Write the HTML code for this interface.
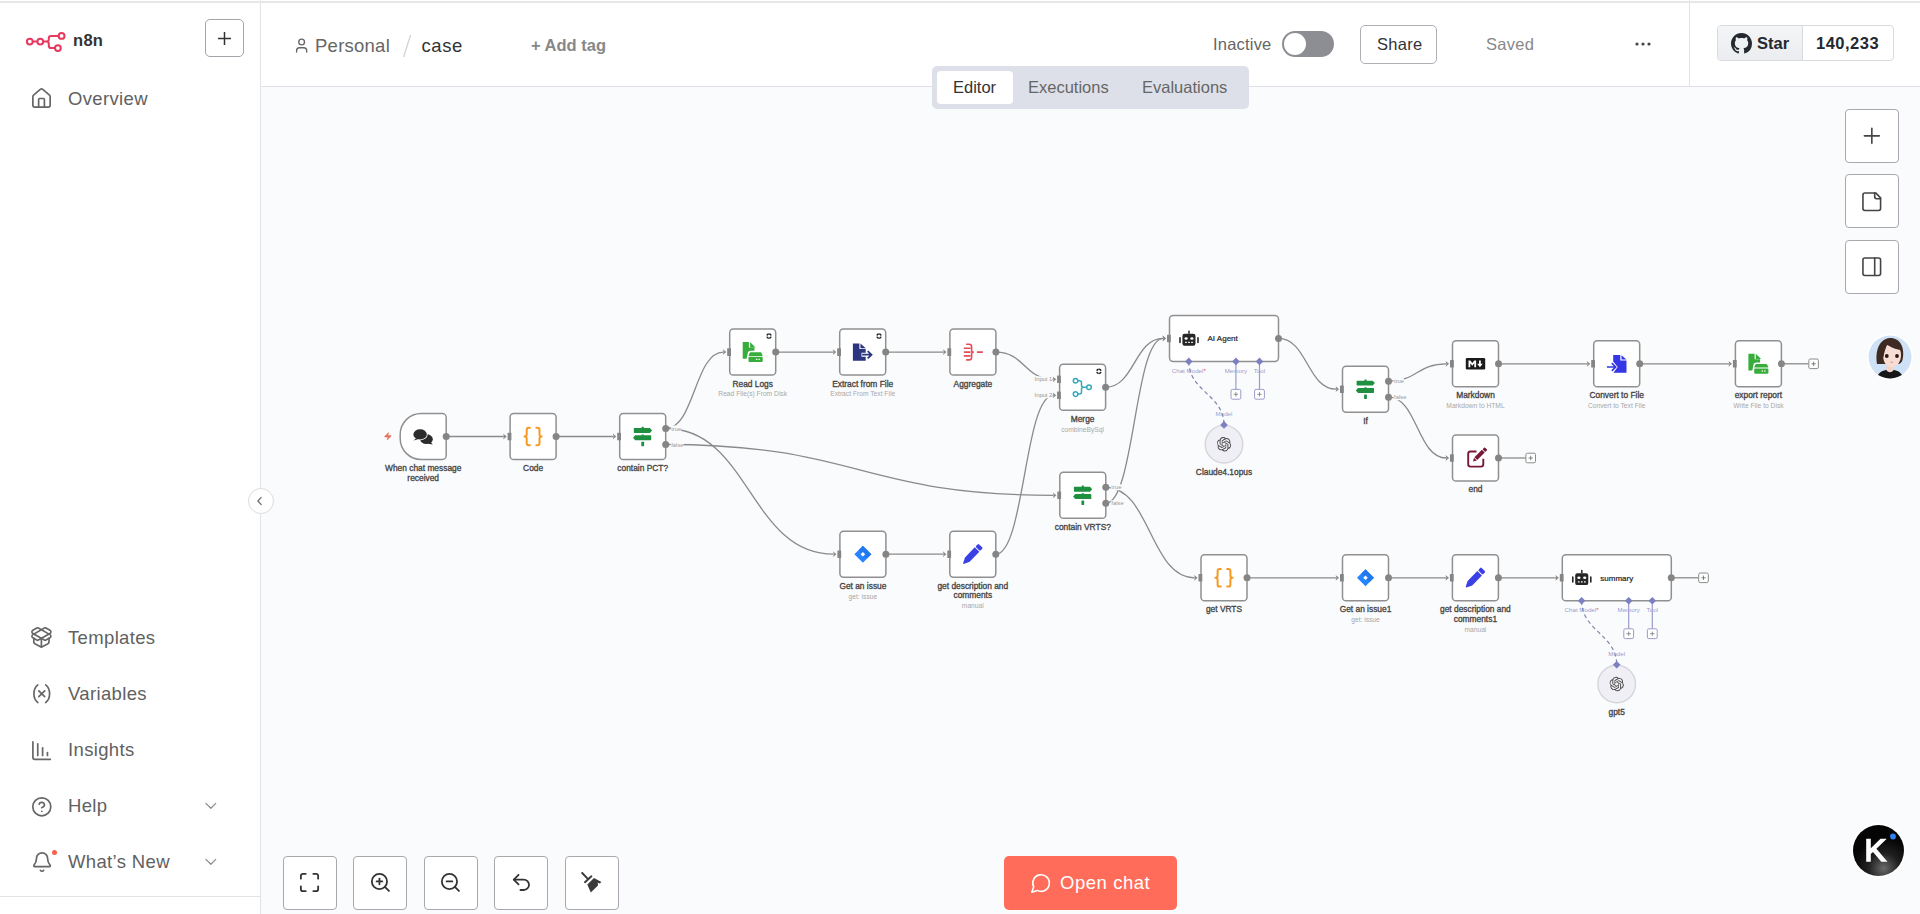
<!DOCTYPE html>
<html><head><meta charset="utf-8"><style>
*{box-sizing:border-box;margin:0;padding:0}
html,body{width:1920px;height:914px;overflow:hidden;background:#fafbfc;font-family:"Liberation Sans", sans-serif;}
.abs{position:absolute}
#sidebar{position:absolute;left:0;top:0;width:261px;height:914px;background:#fff;border-right:1px solid #e3e3e6}
#topline{position:absolute;left:0;top:1px;width:1920px;height:2px;background:#e7e7e7;z-index:20}
#header{position:absolute;left:261px;top:0;width:1659px;height:87px;background:#fff;border-bottom:1px solid #dfe1e6}
.btn{position:absolute;background:#fff;border:1px solid #a8a8ad;border-radius:4px}
.navtxt{position:absolute;font-size:18.5px;color:#616161;letter-spacing:0.35px}
.txt{position:absolute;white-space:nowrap}
</style></head>
<body>
<svg class="abs" style="left:0;top:0" width="1920" height="914" viewBox="0 0 1920 914" font-family='"Liberation Sans", sans-serif'><path d="M446.2 436.5 C475.0 436.5 475.0 436.5 503.8 436.5" fill="none" stroke="#8a8a8a" stroke-width="1.3"/><path d="M503.20 433.60 L506.70 436.50 L503.20 439.40 L504.00 436.50z" fill="#8a8a8a"/><path d="M556.1 436.5 C584.8 436.5 584.8 436.5 613.4 436.5" fill="none" stroke="#8a8a8a" stroke-width="1.3"/><path d="M612.80 433.60 L616.30 436.50 L612.80 439.40 L613.60 436.50z" fill="#8a8a8a"/><path d="M665.7 428.5 C694.6 428.5 694.6 352.1 723.4 352.1" fill="none" stroke="#8a8a8a" stroke-width="1.3"/><path d="M722.80 349.20 L726.30 352.10 L722.80 355.00 L723.60 352.10z" fill="#8a8a8a"/><path d="M665.7 428.5 C749.7 428.5 749.7 554.2 833.6 554.2" fill="none" stroke="#8a8a8a" stroke-width="1.3"/><path d="M833.00 551.30 L836.50 554.20 L833.00 557.10 L833.80 554.20z" fill="#8a8a8a"/><path d="M665.7 444.5 C859.6 444.5 859.6 495.3 1053.5 495.3" fill="none" stroke="#8a8a8a" stroke-width="1.3"/><path d="M1052.90 492.40 L1056.40 495.30 L1052.90 498.20 L1053.70 495.30z" fill="#8a8a8a"/><path d="M775.7 352.1 C804.6 352.1 804.6 352.1 833.4 352.1" fill="none" stroke="#8a8a8a" stroke-width="1.3"/><path d="M832.80 349.20 L836.30 352.10 L832.80 355.00 L833.60 352.10z" fill="#8a8a8a"/><path d="M885.7 352.1 C914.7 352.1 914.7 352.1 943.6 352.1" fill="none" stroke="#8a8a8a" stroke-width="1.3"/><path d="M943.00 349.20 L946.50 352.10 L943.00 355.00 L943.80 352.10z" fill="#8a8a8a"/><path d="M995.9 352.1 C1024.6 352.1 1024.6 379.3 1053.3 379.3" fill="none" stroke="#8a8a8a" stroke-width="1.3"/><path d="M1052.70 376.40 L1056.20 379.30 L1052.70 382.20 L1053.50 379.30z" fill="#8a8a8a"/><path d="M995.8 554.2 C1024.5 554.2 1024.5 395.3 1053.3 395.3" fill="none" stroke="#8a8a8a" stroke-width="1.3"/><path d="M1052.70 392.40 L1056.20 395.30 L1052.70 398.20 L1053.50 395.30z" fill="#8a8a8a"/><path d="M1105.6 387.3 C1134.4 387.3 1134.4 338.4 1163.2 338.4" fill="none" stroke="#8a8a8a" stroke-width="1.3"/><path d="M1162.60 335.55 L1166.10 338.45 L1162.60 341.35 L1163.40 338.45z" fill="#8a8a8a"/><path d="M1105.8 503.3 C1134.5 503.3 1134.5 338.4 1163.2 338.4" fill="none" stroke="#8a8a8a" stroke-width="1.3"/><path d="M1162.60 335.55 L1166.10 338.45 L1162.60 341.35 L1163.40 338.45z" fill="#8a8a8a"/><path d="M1105.8 487.3 C1150.2 487.3 1150.2 577.8 1194.7 577.8" fill="none" stroke="#8a8a8a" stroke-width="1.3"/><path d="M1194.10 574.90 L1197.60 577.80 L1194.10 580.70 L1194.90 577.80z" fill="#8a8a8a"/><path d="M1278.5 338.4 C1307.3 338.4 1307.3 389.2 1336.2 389.2" fill="none" stroke="#8a8a8a" stroke-width="1.3"/><path d="M1335.60 386.30 L1339.10 389.20 L1335.60 392.10 L1336.40 389.20z" fill="#8a8a8a"/><path d="M1388.5 381.2 C1417.3 381.2 1417.3 363.8 1446.2 363.8" fill="none" stroke="#8a8a8a" stroke-width="1.3"/><path d="M1445.60 360.90 L1449.10 363.80 L1445.60 366.70 L1446.40 363.80z" fill="#8a8a8a"/><path d="M1388.5 397.2 C1417.3 397.2 1417.3 458.0 1446.2 458.0" fill="none" stroke="#8a8a8a" stroke-width="1.3"/><path d="M1445.60 455.10 L1449.10 458.00 L1445.60 460.90 L1446.40 458.00z" fill="#8a8a8a"/><path d="M1498.5 363.8 C1543.0 363.8 1543.0 363.8 1587.4 363.8" fill="none" stroke="#8a8a8a" stroke-width="1.3"/><path d="M1586.80 360.90 L1590.30 363.80 L1586.80 366.70 L1587.60 363.80z" fill="#8a8a8a"/><path d="M1639.7 363.8 C1684.4 363.8 1684.4 363.8 1729.1 363.8" fill="none" stroke="#8a8a8a" stroke-width="1.3"/><path d="M1728.50 360.90 L1732.00 363.80 L1728.50 366.70 L1729.30 363.80z" fill="#8a8a8a"/><path d="M885.9 554.2 C914.7 554.2 914.7 554.2 943.5 554.2" fill="none" stroke="#8a8a8a" stroke-width="1.3"/><path d="M942.90 551.30 L946.40 554.20 L942.90 557.10 L943.70 554.20z" fill="#8a8a8a"/><path d="M1247.0 577.8 C1291.6 577.8 1291.6 577.8 1336.2 577.8" fill="none" stroke="#8a8a8a" stroke-width="1.3"/><path d="M1335.60 574.90 L1339.10 577.80 L1335.60 580.70 L1336.40 577.80z" fill="#8a8a8a"/><path d="M1388.5 577.8 C1417.3 577.8 1417.3 577.8 1446.1 577.8" fill="none" stroke="#8a8a8a" stroke-width="1.3"/><path d="M1445.50 574.90 L1449.00 577.80 L1445.50 580.70 L1446.30 577.80z" fill="#8a8a8a"/><path d="M1498.4 577.8 C1527.2 577.8 1527.2 577.8 1556.0 577.8" fill="none" stroke="#8a8a8a" stroke-width="1.3"/><path d="M1555.40 574.90 L1558.90 577.80 L1555.40 580.70 L1556.20 577.80z" fill="#8a8a8a"/><path d="M1781.4 363.8 H1808.4" stroke="#8a8a8a" stroke-width="1.3"/><path d="M1498.5 458.0 H1525.5" stroke="#8a8a8a" stroke-width="1.3"/><path d="M1671.3 577.8 H1698.3" stroke="#8a8a8a" stroke-width="1.3"/><path d="M1235.9 361.4 V389.4" stroke="#9a9ccb" stroke-width="1.2"/><path d="M1259.5 361.4 V389.4" stroke="#9a9ccb" stroke-width="1.2"/><path d="M1188.8 361.4 C1188.8 391.4 1224.0 394.9 1224.0 424.9" fill="none" stroke="#8083b0" stroke-width="1.2" stroke-dasharray="4 3"/><path d="M1628.7 600.8 V628.8" stroke="#9a9ccb" stroke-width="1.2"/><path d="M1652.3 600.8 V628.8" stroke="#9a9ccb" stroke-width="1.2"/><path d="M1581.6 600.8 C1581.6 630.8 1616.7 634.7 1616.7 664.7" fill="none" stroke="#8083b0" stroke-width="1.2" stroke-dasharray="4 3"/><rect x="1808.8" y="359.0" width="9.6" height="9.6" rx="1.5" fill="#fff" stroke="#8c8c8c" stroke-width="1"/><path d="M1811.4 363.8h4.4M1813.6 361.6v4.4" stroke="#666" stroke-width="0.8"/><rect x="1525.9" y="453.2" width="9.6" height="9.6" rx="1.5" fill="#fff" stroke="#8c8c8c" stroke-width="1"/><path d="M1528.5 458.0h4.4M1530.7 455.8v4.4" stroke="#666" stroke-width="0.8"/><rect x="1698.7" y="573.0" width="9.6" height="9.6" rx="1.5" fill="#fff" stroke="#8c8c8c" stroke-width="1"/><path d="M1701.3 577.8h4.4M1703.5 575.6v4.4" stroke="#666" stroke-width="0.8"/><path d="M421.2 413.5 H442.2 a4 4 0 0 1 4 4 V455.5 a4 4 0 0 1 -4 4 H421.2 a21 21 0 0 1 -21 -21 V434.5 a21 21 0 0 1 21 -21z" fill="#fff" stroke="#909090" stroke-width="1.5"/><g transform="translate(423.2 436.5)"><g fill="#2c2c2c">
<ellipse cx="3.3" cy="2.7" rx="6.3" ry="4.9"/>
<path d="M7.2 5.2 L9.6 7.9 L4.8 7.2z"/>
<ellipse cx="-3.1" cy="-2.1" rx="7.5" ry="5.9" fill="#fff"/>
<ellipse cx="-3.1" cy="-2.1" rx="6.7" ry="5.1"/>
<path d="M-6.8 1.6 L-9.6 4.0 L-4.4 2.6z"/>
</g></g><circle cx="446.2" cy="436.5" r="3.5" fill="#858585"/><rect x="510.1" y="413.5" width="46" height="46" rx="3.6" fill="#fff" stroke="#909090" stroke-width="1.5"/><g transform="translate(533.1 436.5)"><g fill="none" stroke="#f59a23" stroke-width="2" stroke-linecap="round" stroke-linejoin="round">
<path d="M-3.2 -8.8 H-4.4 C-5.9 -8.8 -6.4 -8.1 -6.4 -6.6 V-2.3 C-6.4 -0.9 -7 0 -8.6 0 C-7 0 -6.4 0.9 -6.4 2.3 V6.6 C-6.4 8.1 -5.9 8.8 -4.4 8.8 H-3.2"/>
<path d="M3.2 -8.8 H4.4 C5.9 -8.8 6.4 -8.1 6.4 -6.6 V-2.3 C6.4 -0.9 7 0 8.6 0 C7 0 6.4 0.9 6.4 2.3 V6.6 C6.4 8.1 5.9 8.8 4.4 8.8 H3.2"/>
</g></g><rect x="507.60" y="432.70" width="3.8" height="7.6" rx="0.5" fill="#858585"/><circle cx="556.1" cy="436.5" r="3.5" fill="#858585"/><rect x="619.7" y="413.5" width="46" height="46" rx="3.6" fill="#fff" stroke="#909090" stroke-width="1.5"/><g transform="translate(642.7 436.5)"><g fill="#1f8f40">
<path d="M-8.3 -8.5 H7.2 L9.4 -6.1 L7.2 -3.6 H-8.3 a0.6 0.6 0 0 1 -0.6 -0.6 v-3.7 a0.6 0.6 0 0 1 0.6 -0.6z"/>
<path d="M7.9 -1.2 H-7.5 L-9.7 1.2 L-7.5 3.7 H7.9 a0.6 0.6 0 0 0 0.6 -0.6 v-3.7 a0.6 0.6 0 0 0 -0.6 -0.6z"/>
<rect x="-1.4" y="5.3" width="2.8" height="4.4" rx="0.4"/>
<rect x="-1.1" y="-9.7" width="2.2" height="1.6" rx="0.4"/>
<rect x="-1.1" y="-2" width="2.2" height="1.2" rx="0.3"/>
</g></g><rect x="617.20" y="432.70" width="3.8" height="7.6" rx="0.5" fill="#858585"/><circle cx="665.7" cy="428.5" r="3.5" fill="#858585"/><circle cx="665.7" cy="444.5" r="3.5" fill="#858585"/><rect x="729.7" y="329.1" width="46" height="46" rx="3.6" fill="#fff" stroke="#909090" stroke-width="1.5"/><g transform="translate(752.7 352.1)"><g fill="#37ad3b">
<path d="M-10 -10 h6.2 v5.5 h5.5 v3.2 h-3.7 c-1.6 0 -2.4 0.7 -2.8 1.8 l-1.3 6.1 h-3.9z"/>
<path d="M-2.6 -10 l5.3 5.3 h-5.3z"/>
<path d="M-3.3 1.5 c0.3 -1 0.8 -1.4 1.8 -1.4 h8.8 c1 0 1.5 0.4 1.8 1.4 l0.9 2.3 h-14.2z"/>
<rect x="-4.2" y="4.7" width="14.2" height="5.2" rx="1"/>
</g><g fill="#fff"><rect x="3.3" y="6.6" width="1.3" height="1.3"/><rect x="5.8" y="6.6" width="1.3" height="1.3"/></g></g><path d="M771.08 336.66 A2.15 2.15 0 0 1 769.19 338.24 M768.81 338.24 A2.15 2.15 0 0 1 766.92 336.66 M766.92 335.54 A2.15 2.15 0 0 1 768.81 333.96 M769.19 333.96 A2.15 2.15 0 0 1 771.08 335.54" fill="none" stroke="#1e1e1e" stroke-width="1.5" stroke-linecap="butt"/><rect x="727.20" y="348.30" width="3.8" height="7.6" rx="0.5" fill="#858585"/><circle cx="775.7" cy="352.1" r="3.5" fill="#858585"/><rect x="839.7" y="329.1" width="46" height="46" rx="3.6" fill="#fff" stroke="#909090" stroke-width="1.5"/><g transform="translate(862.7 352.1)"><g fill="#2b3580">
<path d="M-9.8 -8.7 H-3.3 V-3 H3.0 V8.6 H-9.8Z"/>
<path d="M-2.2 -8.5 L3 -3.9 H-2.2Z"/>
</g><path d="M-1.2 2.6 H8 M4.8 -1.4 L8.8 2.6 L4.8 6.6" fill="none" stroke="#fff" stroke-width="4" stroke-linejoin="miter"/>
<path d="M-0.6 2.6 H8 M5 -1 L8.8 2.6 L5 6.2" fill="none" stroke="#2b3580" stroke-width="1.8"/></g><path d="M881.08 336.66 A2.15 2.15 0 0 1 879.19 338.24 M878.81 338.24 A2.15 2.15 0 0 1 876.92 336.66 M876.92 335.54 A2.15 2.15 0 0 1 878.81 333.96 M879.19 333.96 A2.15 2.15 0 0 1 881.08 335.54" fill="none" stroke="#1e1e1e" stroke-width="1.5" stroke-linecap="butt"/><rect x="837.20" y="348.30" width="3.8" height="7.6" rx="0.5" fill="#858585"/><circle cx="885.7" cy="352.1" r="3.5" fill="#858585"/><rect x="949.9" y="329.1" width="46" height="46" rx="3.6" fill="#fff" stroke="#909090" stroke-width="1.5"/><g transform="translate(972.9 352.1)"><g fill="none" stroke="#e34c58" stroke-width="1.6" stroke-linecap="round">
<path d="M-6.2 -7.8 h2.4 c1.7 0 2.5 0.8 2.5 2.5 v3.4 c0 1.2 0.7 1.9 2.2 1.9 c-1.5 0 -2.2 0.7 -2.2 1.9 v3.4 c0 1.7 -0.8 2.5 -2.5 2.5 h-2.4"/>
<path d="M-8.5 -3.8 h5.6 M-8.5 0 h5.6 M-8.5 3.8 h5.6 M4.6 0 h4.8"/>
</g></g><rect x="947.40" y="348.30" width="3.8" height="7.6" rx="0.5" fill="#858585"/><circle cx="995.9" cy="352.1" r="3.5" fill="#858585"/><rect x="1059.6" y="364.3" width="46" height="46" rx="3.6" fill="#fff" stroke="#909090" stroke-width="1.5"/><g transform="translate(1082.6 387.3)"><g fill="none" stroke="#33a9b9" stroke-width="1.5">
<circle cx="-7" cy="-6.6" r="2.3"/><circle cx="-7" cy="6.8" r="2.3"/><circle cx="6.4" cy="0" r="2.3"/>
<path d="M-4.7 -6.6 h1.6 c1.3 0 2 0.7 2 2 v2.6 c0 1.3 0.7 2 2 2 h3.2 M-4.7 6.8 h1.6 c1.3 0 2 -0.7 2 -2 v-2.8 c0 -1.3 0.7 -2 2 -2"/>
</g></g><path d="M1100.98 371.86 A2.15 2.15 0 0 1 1099.09 373.44 M1098.71 373.44 A2.15 2.15 0 0 1 1096.82 371.86 M1096.82 370.74 A2.15 2.15 0 0 1 1098.71 369.16 M1099.09 369.16 A2.15 2.15 0 0 1 1100.98 370.74" fill="none" stroke="#1e1e1e" stroke-width="1.5" stroke-linecap="butt"/><rect x="1057.10" y="375.50" width="3.8" height="7.6" rx="0.5" fill="#858585"/><rect x="1057.10" y="391.50" width="3.8" height="7.6" rx="0.5" fill="#858585"/><circle cx="1105.6" cy="387.3" r="3.5" fill="#858585"/><rect x="1169.5" y="315.4" width="109" height="46" rx="3.6" fill="#fff" stroke="#909090" stroke-width="1.5"/><g transform="translate(1189.0 338.4)"><g fill="#262626">
<rect x="-6.6" y="-4.6" width="13.1" height="11.9" rx="2.2"/>
<rect x="-0.75" y="-8" width="1.5" height="3.6" rx="0.7"/>
<rect x="-9.8" y="-1.5" width="1.6" height="6.4" rx="0.8"/><rect x="8.2" y="-1.5" width="1.6" height="6.4" rx="0.8"/>
</g><g fill="#fff"><ellipse cx="-2.9" cy="0" rx="1.6" ry="1.25"/><ellipse cx="2.9" cy="0" rx="1.6" ry="1.25"/>
<rect x="-3.9" y="3.4" width="1.7" height="1.3" rx="0.3"/><rect x="-0.85" y="3.4" width="1.7" height="1.3" rx="0.3"/><rect x="2.2" y="3.4" width="1.7" height="1.3" rx="0.3"/></g></g><rect x="1167.00" y="334.65" width="3.8" height="7.6" rx="0.5" fill="#858585"/><circle cx="1278.5" cy="338.4" r="3.5" fill="#858585"/><rect x="1342.5" y="366.2" width="46" height="46" rx="3.6" fill="#fff" stroke="#909090" stroke-width="1.5"/><g transform="translate(1365.5 389.2)"><g fill="#1f8f40">
<path d="M-8.3 -8.5 H7.2 L9.4 -6.1 L7.2 -3.6 H-8.3 a0.6 0.6 0 0 1 -0.6 -0.6 v-3.7 a0.6 0.6 0 0 1 0.6 -0.6z"/>
<path d="M7.9 -1.2 H-7.5 L-9.7 1.2 L-7.5 3.7 H7.9 a0.6 0.6 0 0 0 0.6 -0.6 v-3.7 a0.6 0.6 0 0 0 -0.6 -0.6z"/>
<rect x="-1.4" y="5.3" width="2.8" height="4.4" rx="0.4"/>
<rect x="-1.1" y="-9.7" width="2.2" height="1.6" rx="0.4"/>
<rect x="-1.1" y="-2" width="2.2" height="1.2" rx="0.3"/>
</g></g><rect x="1340.00" y="385.40" width="3.8" height="7.6" rx="0.5" fill="#858585"/><circle cx="1388.5" cy="381.2" r="3.5" fill="#858585"/><circle cx="1388.5" cy="397.2" r="3.5" fill="#858585"/><rect x="1452.5" y="340.8" width="46" height="46" rx="3.6" fill="#fff" stroke="#909090" stroke-width="1.5"/><g transform="translate(1475.5 363.8)"><g><rect x="-9.7" y="-5.8" width="19.4" height="11.6" rx="1.3" fill="#1b1b1b"/>
<path d="M-7 3.4 v-6.8 h1.8 l2 2.6 l2 -2.6 h1.8 v6.8 h-1.8 v-4 l-2 2.5 l-2 -2.5 v4z" fill="#fff"/>
<path d="M3.5 -3.4 h1.8 v3.4 h1.9 l-2.8 3.4 l-2.8 -3.4 h1.9z" fill="#fff"/></g></g><rect x="1450.00" y="360.00" width="3.8" height="7.6" rx="0.5" fill="#858585"/><circle cx="1498.5" cy="363.8" r="3.5" fill="#858585"/><rect x="1593.7" y="340.8" width="46" height="46" rx="3.6" fill="#fff" stroke="#909090" stroke-width="1.5"/><g transform="translate(1616.7 363.8)"><g fill="#3537e6">
<path d="M-3.5 -8.7 H3.6 V-3.2 H9.8 V8.9 H-3.3 L1.0 3.2 L-3.5 -2.4Z"/>
<path d="M4.8 -8.5 L9.7 -4.2 H4.8Z"/>
</g><path d="M-9.8 3.2 H-1.6 M-4.9 -0.6 L-1.1 3.2 L-4.9 7" fill="none" stroke="#3537e6" stroke-width="1.7"/></g><rect x="1591.20" y="360.00" width="3.8" height="7.6" rx="0.5" fill="#858585"/><circle cx="1639.7" cy="363.8" r="3.5" fill="#858585"/><rect x="1735.4" y="340.8" width="46" height="46" rx="3.6" fill="#fff" stroke="#909090" stroke-width="1.5"/><g transform="translate(1758.4 363.8)"><g fill="#37ad3b">
<path d="M-10 -10 h6.2 v5.5 h5.5 v3.2 h-3.7 c-1.6 0 -2.4 0.7 -2.8 1.8 l-1.3 6.1 h-3.9z"/>
<path d="M-2.6 -10 l5.3 5.3 h-5.3z"/>
<path d="M-3.3 1.5 c0.3 -1 0.8 -1.4 1.8 -1.4 h8.8 c1 0 1.5 0.4 1.8 1.4 l0.9 2.3 h-14.2z"/>
<rect x="-4.2" y="4.7" width="14.2" height="5.2" rx="1"/>
</g><g fill="#fff"><rect x="3.3" y="6.6" width="1.3" height="1.3"/><rect x="5.8" y="6.6" width="1.3" height="1.3"/></g></g><rect x="1732.90" y="360.00" width="3.8" height="7.6" rx="0.5" fill="#858585"/><circle cx="1781.4" cy="363.8" r="3.5" fill="#858585"/><rect x="1452.5" y="435.0" width="46" height="46" rx="3.6" fill="#fff" stroke="#909090" stroke-width="1.5"/><g transform="translate(1475.5 458.0)"><g>
<path d="M1 -6.5 h-6 c-1.4 0 -2.3 0.9 -2.3 2.3 v10.5 c0 1.4 0.9 2.3 2.3 2.3 h10.5 c1.4 0 2.3 -0.9 2.3 -2.3 v-5.5" fill="none" stroke="#7a1838" stroke-width="1.9"/>
<g transform="rotate(45 2.5 -1.5)" fill="#7a1838"><rect x="0.5" y="-9" width="4" height="10.5"/><path d="M0.5 2.2 h4 l-2 3.2z"/><rect x="0.5" y="-12.8" width="4" height="3" rx="0.8"/></g>
</g></g><rect x="1450.00" y="454.20" width="3.8" height="7.6" rx="0.5" fill="#858585"/><circle cx="1498.5" cy="458.0" r="3.5" fill="#858585"/><rect x="1059.8" y="472.3" width="46" height="46" rx="3.6" fill="#fff" stroke="#909090" stroke-width="1.5"/><g transform="translate(1082.8 495.3)"><g fill="#1f8f40">
<path d="M-8.3 -8.5 H7.2 L9.4 -6.1 L7.2 -3.6 H-8.3 a0.6 0.6 0 0 1 -0.6 -0.6 v-3.7 a0.6 0.6 0 0 1 0.6 -0.6z"/>
<path d="M7.9 -1.2 H-7.5 L-9.7 1.2 L-7.5 3.7 H7.9 a0.6 0.6 0 0 0 0.6 -0.6 v-3.7 a0.6 0.6 0 0 0 -0.6 -0.6z"/>
<rect x="-1.4" y="5.3" width="2.8" height="4.4" rx="0.4"/>
<rect x="-1.1" y="-9.7" width="2.2" height="1.6" rx="0.4"/>
<rect x="-1.1" y="-2" width="2.2" height="1.2" rx="0.3"/>
</g></g><rect x="1057.30" y="491.50" width="3.8" height="7.6" rx="0.5" fill="#858585"/><circle cx="1105.8" cy="487.3" r="3.5" fill="#858585"/><circle cx="1105.8" cy="503.3" r="3.5" fill="#858585"/><rect x="839.9" y="531.2" width="46" height="46" rx="3.6" fill="#fff" stroke="#909090" stroke-width="1.5"/><g transform="translate(862.9 554.2)"><g><path d="M0 -8.5 L8.5 0 L0 8.5 L-8.5 0z" fill="#2684ff"/><path d="M0 -8.5 L8.5 0 L4.2 4.2 L0 0 L-4.2 -4.2z" fill="#1d6fe0" opacity="0.6"/><path d="M0 -2.3 L2.3 0 L0 2.3 L-2.3 0z" fill="#fff"/></g></g><rect x="837.40" y="550.40" width="3.8" height="7.6" rx="0.5" fill="#858585"/><circle cx="885.9" cy="554.2" r="3.5" fill="#858585"/><rect x="949.8" y="531.2" width="46" height="46" rx="3.6" fill="#fff" stroke="#909090" stroke-width="1.5"/><g transform="translate(972.8 554.2)"><g fill="#3b3fe6" transform="translate(-0.9 0.7) rotate(44)">
<path d="M-3.2 -7.4 H3.2 V6.6 L0.5 12.2 H-0.5 L-3.2 6.6Z"/>
<rect x="-3.2" y="-12.6" width="6.4" height="4.2" rx="1.1"/>
</g></g><rect x="947.30" y="550.40" width="3.8" height="7.6" rx="0.5" fill="#858585"/><circle cx="995.8" cy="554.2" r="3.5" fill="#858585"/><rect x="1201.0" y="554.8" width="46" height="46" rx="3.6" fill="#fff" stroke="#909090" stroke-width="1.5"/><g transform="translate(1224.0 577.8)"><g fill="none" stroke="#f59a23" stroke-width="2" stroke-linecap="round" stroke-linejoin="round">
<path d="M-3.2 -8.8 H-4.4 C-5.9 -8.8 -6.4 -8.1 -6.4 -6.6 V-2.3 C-6.4 -0.9 -7 0 -8.6 0 C-7 0 -6.4 0.9 -6.4 2.3 V6.6 C-6.4 8.1 -5.9 8.8 -4.4 8.8 H-3.2"/>
<path d="M3.2 -8.8 H4.4 C5.9 -8.8 6.4 -8.1 6.4 -6.6 V-2.3 C6.4 -0.9 7 0 8.6 0 C7 0 6.4 0.9 6.4 2.3 V6.6 C6.4 8.1 5.9 8.8 4.4 8.8 H3.2"/>
</g></g><rect x="1198.50" y="574.00" width="3.8" height="7.6" rx="0.5" fill="#858585"/><circle cx="1247.0" cy="577.8" r="3.5" fill="#858585"/><rect x="1342.5" y="554.8" width="46" height="46" rx="3.6" fill="#fff" stroke="#909090" stroke-width="1.5"/><g transform="translate(1365.5 577.8)"><g><path d="M0 -8.5 L8.5 0 L0 8.5 L-8.5 0z" fill="#2684ff"/><path d="M0 -8.5 L8.5 0 L4.2 4.2 L0 0 L-4.2 -4.2z" fill="#1d6fe0" opacity="0.6"/><path d="M0 -2.3 L2.3 0 L0 2.3 L-2.3 0z" fill="#fff"/></g></g><rect x="1340.00" y="574.00" width="3.8" height="7.6" rx="0.5" fill="#858585"/><circle cx="1388.5" cy="577.8" r="3.5" fill="#858585"/><rect x="1452.4" y="554.8" width="46" height="46" rx="3.6" fill="#fff" stroke="#909090" stroke-width="1.5"/><g transform="translate(1475.4 577.8)"><g fill="#3b3fe6" transform="translate(-0.9 0.7) rotate(44)">
<path d="M-3.2 -7.4 H3.2 V6.6 L0.5 12.2 H-0.5 L-3.2 6.6Z"/>
<rect x="-3.2" y="-12.6" width="6.4" height="4.2" rx="1.1"/>
</g></g><rect x="1449.90" y="574.00" width="3.8" height="7.6" rx="0.5" fill="#858585"/><circle cx="1498.4" cy="577.8" r="3.5" fill="#858585"/><rect x="1562.3" y="554.8" width="109" height="46" rx="3.6" fill="#fff" stroke="#909090" stroke-width="1.5"/><g transform="translate(1581.8 577.8)"><g fill="#262626">
<rect x="-6.6" y="-4.6" width="13.1" height="11.9" rx="2.2"/>
<rect x="-0.75" y="-8" width="1.5" height="3.6" rx="0.7"/>
<rect x="-9.8" y="-1.5" width="1.6" height="6.4" rx="0.8"/><rect x="8.2" y="-1.5" width="1.6" height="6.4" rx="0.8"/>
</g><g fill="#fff"><ellipse cx="-2.9" cy="0" rx="1.6" ry="1.25"/><ellipse cx="2.9" cy="0" rx="1.6" ry="1.25"/>
<rect x="-3.9" y="3.4" width="1.7" height="1.3" rx="0.3"/><rect x="-0.85" y="3.4" width="1.7" height="1.3" rx="0.3"/><rect x="2.2" y="3.4" width="1.7" height="1.3" rx="0.3"/></g></g><rect x="1559.80" y="574.00" width="3.8" height="7.6" rx="0.5" fill="#858585"/><circle cx="1671.3" cy="577.8" r="3.5" fill="#858585"/><rect x="1231.0" y="389.4" width="9.8" height="9.8" rx="1.5" fill="#fff" stroke="#9a9ccb" stroke-width="1"/><path d="M1233.7 394.3h4.4M1235.9 392.1v4.4" stroke="#777" stroke-width="0.8"/><rect x="1254.6" y="389.4" width="9.8" height="9.8" rx="1.5" fill="#fff" stroke="#9a9ccb" stroke-width="1"/><path d="M1257.3 394.3h4.4M1259.5 392.1v4.4" stroke="#777" stroke-width="0.8"/><path d="M1188.8 357.6 l3.8 3.8 l-3.8 3.8 l-3.8 -3.8z" fill="#7c80c0"/><path d="M1235.9 357.6 l3.8 3.8 l-3.8 3.8 l-3.8 -3.8z" fill="#7c80c0"/><path d="M1259.5 357.6 l3.8 3.8 l-3.8 3.8 l-3.8 -3.8z" fill="#7c80c0"/><circle cx="1224.0" cy="444.2" r="18.8" fill="#efeff5" stroke="#d5d5dc" stroke-width="1.4"/><g transform="translate(1224.0 444.2)"><g transform="scale(0.6) translate(-12 -12)"><path fill="#4a4a4a" d="M22.2819 9.8211a5.9847 5.9847 0 0 0-.5157-4.9108 6.0462 6.0462 0 0 0-6.5098-2.9A6.0651 6.0651 0 0 0 4.9807 4.1818a5.9847 5.9847 0 0 0-3.9977 2.9 6.0462 6.0462 0 0 0 .7427 7.0966 5.98 5.98 0 0 0 .511 4.9107 6.051 6.051 0 0 0 6.5146 2.9001A5.9847 5.9847 0 0 0 13.2599 24a6.0557 6.0557 0 0 0 5.7718-4.2058 5.9894 5.9894 0 0 0 3.9977-2.9001 6.0557 6.0557 0 0 0-.7475-7.0729zm-9.022 12.6081a4.4755 4.4755 0 0 1-2.8764-1.0408l.1419-.0804 4.7783-2.7582a.7948.7948 0 0 0 .3927-.6813v-6.7369l2.02 1.1686a.071.071 0 0 1 .038.052v5.5826a4.504 4.504 0 0 1-4.4945 4.4944zm-9.6607-4.1254a4.4708 4.4708 0 0 1-.5346-3.0137l.142.0852 4.783 2.7582a.7712.7712 0 0 0 .7806 0l5.8428-3.3685v2.3324a.0804.0804 0 0 1-.0332.0615L9.74 19.9502a4.4992 4.4992 0 0 1-6.1408-1.6464zM2.3408 7.8956a4.485 4.485 0 0 1 2.3655-1.9728V11.6a.7664.7664 0 0 0 .3879.6765l5.8144 3.3543-2.0201 1.1685a.0757.0757 0 0 1-.071 0l-4.8303-2.7865A4.504 4.504 0 0 1 2.3408 7.872zm16.5963 3.8558L13.1038 8.364 15.1192 7.2a.0757.0757 0 0 1 .071 0l4.8303 2.7913a4.4944 4.4944 0 0 1-.6765 8.1042v-5.6772a.79.79 0 0 0-.407-.667zm2.0107-3.0231l-.142-.0852-4.7735-2.7818a.7759.7759 0 0 0-.7854 0L9.409 9.2297V6.8974a.0662.0662 0 0 1 .0284-.0615l4.8303-2.7866a4.4992 4.4992 0 0 1 6.6802 4.66zM8.3065 12.863l-2.02-1.1638a.0804.0804 0 0 1-.038-.0567V6.0742a4.4992 4.4992 0 0 1 7.3757-3.4537l-.142.0805L8.704 5.459a.7948.7948 0 0 0-.3927.6813zm1.0976-2.3654l2.602-1.4998 2.6069 1.4998v2.9994l-2.5974 1.4997-2.6067-1.4997Z"/></g></g><path d="M1224.0 421.1 l3.8 3.8 l-3.8 3.8 l-3.8 -3.8z" fill="#7c80c0"/><rect x="1623.8" y="628.8" width="9.8" height="9.8" rx="1.5" fill="#fff" stroke="#9a9ccb" stroke-width="1"/><path d="M1626.5 633.7h4.4M1628.7 631.5v4.4" stroke="#777" stroke-width="0.8"/><rect x="1647.4" y="628.8" width="9.8" height="9.8" rx="1.5" fill="#fff" stroke="#9a9ccb" stroke-width="1"/><path d="M1650.1 633.7h4.4M1652.3 631.5v4.4" stroke="#777" stroke-width="0.8"/><path d="M1581.6 597.0 l3.8 3.8 l-3.8 3.8 l-3.8 -3.8z" fill="#7c80c0"/><path d="M1628.7 597.0 l3.8 3.8 l-3.8 3.8 l-3.8 -3.8z" fill="#7c80c0"/><path d="M1652.3 597.0 l3.8 3.8 l-3.8 3.8 l-3.8 -3.8z" fill="#7c80c0"/><circle cx="1616.7" cy="684.0" r="18.8" fill="#efeff5" stroke="#d5d5dc" stroke-width="1.4"/><g transform="translate(1616.7 684.0)"><g transform="scale(0.6) translate(-12 -12)"><path fill="#4a4a4a" d="M22.2819 9.8211a5.9847 5.9847 0 0 0-.5157-4.9108 6.0462 6.0462 0 0 0-6.5098-2.9A6.0651 6.0651 0 0 0 4.9807 4.1818a5.9847 5.9847 0 0 0-3.9977 2.9 6.0462 6.0462 0 0 0 .7427 7.0966 5.98 5.98 0 0 0 .511 4.9107 6.051 6.051 0 0 0 6.5146 2.9001A5.9847 5.9847 0 0 0 13.2599 24a6.0557 6.0557 0 0 0 5.7718-4.2058 5.9894 5.9894 0 0 0 3.9977-2.9001 6.0557 6.0557 0 0 0-.7475-7.0729zm-9.022 12.6081a4.4755 4.4755 0 0 1-2.8764-1.0408l.1419-.0804 4.7783-2.7582a.7948.7948 0 0 0 .3927-.6813v-6.7369l2.02 1.1686a.071.071 0 0 1 .038.052v5.5826a4.504 4.504 0 0 1-4.4945 4.4944zm-9.6607-4.1254a4.4708 4.4708 0 0 1-.5346-3.0137l.142.0852 4.783 2.7582a.7712.7712 0 0 0 .7806 0l5.8428-3.3685v2.3324a.0804.0804 0 0 1-.0332.0615L9.74 19.9502a4.4992 4.4992 0 0 1-6.1408-1.6464zM2.3408 7.8956a4.485 4.485 0 0 1 2.3655-1.9728V11.6a.7664.7664 0 0 0 .3879.6765l5.8144 3.3543-2.0201 1.1685a.0757.0757 0 0 1-.071 0l-4.8303-2.7865A4.504 4.504 0 0 1 2.3408 7.872zm16.5963 3.8558L13.1038 8.364 15.1192 7.2a.0757.0757 0 0 1 .071 0l4.8303 2.7913a4.4944 4.4944 0 0 1-.6765 8.1042v-5.6772a.79.79 0 0 0-.407-.667zm2.0107-3.0231l-.142-.0852-4.7735-2.7818a.7759.7759 0 0 0-.7854 0L9.409 9.2297V6.8974a.0662.0662 0 0 1 .0284-.0615l4.8303-2.7866a4.4992 4.4992 0 0 1 6.6802 4.66zM8.3065 12.863l-2.02-1.1638a.0804.0804 0 0 1-.038-.0567V6.0742a4.4992 4.4992 0 0 1 7.3757-3.4537l-.142.0805L8.704 5.459a.7948.7948 0 0 0-.3927.6813zm1.0976-2.3654l2.602-1.4998 2.6069 1.4998v2.9994l-2.5974 1.4997-2.6067-1.4997Z"/></g></g><path d="M1616.7 660.9 l3.8 3.8 l-3.8 3.8 l-3.8 -3.8z" fill="#7c80c0"/><g transform="translate(387.85 436.3) scale(0.36) translate(-12 -12)"><path d="M4 14a1 1 0 0 1-.78-1.63l9.9-10.2a.5.5 0 0 1 .86.46l-1.92 6.02A1 1 0 0 0 13 10h7a1 1 0 0 1 .78 1.63l-9.9 10.2a.5.5 0 0 1-.86-.46l1.92-6.02A1 1 0 0 0 11 14z" fill="#e8705f" stroke="#e8705f" stroke-width="1.5" stroke-linejoin="round"/></g><text x="423.2" y="470.9" font-size="8.4" fill="#454545" font-weight="normal" text-anchor="middle" stroke="#454545" stroke-width="0.32">When chat message</text><text x="423.2" y="480.6" font-size="8.4" fill="#454545" font-weight="normal" text-anchor="middle" stroke="#454545" stroke-width="0.32">received</text><text x="533.1" y="470.9" font-size="8.4" fill="#454545" font-weight="normal" text-anchor="middle" stroke="#454545" stroke-width="0.32">Code</text><rect x="670.7" y="425.5" width="10.6" height="6" fill="#fafbfc"/><text x="671.2" y="430.5" font-size="5.9" fill="#9a9a9a">true</text><rect x="670.7" y="441.5" width="12.8" height="6" fill="#fafbfc"/><text x="671.2" y="446.5" font-size="5.9" fill="#9a9a9a">false</text><text x="642.7" y="470.9" font-size="8.4" fill="#454545" font-weight="normal" text-anchor="middle" stroke="#454545" stroke-width="0.32">contain PCT?</text><text x="752.7" y="386.5" font-size="8.4" fill="#454545" font-weight="normal" text-anchor="middle" stroke="#454545" stroke-width="0.32">Read Logs</text><text x="752.7" y="396.4" font-size="6.7" fill="#a8a8a8" font-weight="normal" text-anchor="middle" >Read File(s) From Disk</text><text x="862.7" y="386.5" font-size="8.4" fill="#454545" font-weight="normal" text-anchor="middle" stroke="#454545" stroke-width="0.32">Extract from File</text><text x="862.7" y="396.4" font-size="6.7" fill="#a8a8a8" font-weight="normal" text-anchor="middle" >Extract From Text File</text><text x="972.9" y="386.5" font-size="8.4" fill="#454545" font-weight="normal" text-anchor="middle" stroke="#454545" stroke-width="0.32">Aggregate</text><rect x="1033.6" y="376.3" width="18.9" height="6" fill="#fafbfc"/><text x="1052.3" y="381.3" font-size="5.8" fill="#939393" text-anchor="end">Input 1</text><rect x="1033.6" y="392.3" width="18.9" height="6" fill="#fafbfc"/><text x="1052.3" y="397.3" font-size="5.8" fill="#939393" text-anchor="end">Input 2</text><text x="1082.6" y="421.7" font-size="8.4" fill="#454545" font-weight="normal" text-anchor="middle" stroke="#454545" stroke-width="0.32">Merge</text><text x="1082.6" y="431.6" font-size="6.7" fill="#a8a8a8" font-weight="normal" text-anchor="middle" >combineBySql</text><text x="1207.5" y="341.3" font-size="8.0" fill="#2a2a2a" font-weight="normal" text-anchor="start" stroke="#2a2a2a" stroke-width="0.22">AI Agent</text><rect x="1393.5" y="378.2" width="10.6" height="6" fill="#fafbfc"/><text x="1394.0" y="383.2" font-size="5.9" fill="#9a9a9a">true</text><rect x="1393.5" y="394.2" width="12.8" height="6" fill="#fafbfc"/><text x="1394.0" y="399.2" font-size="5.9" fill="#9a9a9a">false</text><text x="1365.5" y="423.6" font-size="8.4" fill="#454545" font-weight="normal" text-anchor="middle" stroke="#454545" stroke-width="0.32">If</text><text x="1475.5" y="398.2" font-size="8.4" fill="#454545" font-weight="normal" text-anchor="middle" stroke="#454545" stroke-width="0.32">Markdown</text><text x="1475.5" y="408.1" font-size="6.7" fill="#a8a8a8" font-weight="normal" text-anchor="middle" >Markdown to HTML</text><text x="1616.7" y="398.2" font-size="8.4" fill="#454545" font-weight="normal" text-anchor="middle" stroke="#454545" stroke-width="0.32">Convert to File</text><text x="1616.7" y="408.1" font-size="6.7" fill="#a8a8a8" font-weight="normal" text-anchor="middle" >Convert to Text File</text><text x="1758.4" y="398.2" font-size="8.4" fill="#454545" font-weight="normal" text-anchor="middle" stroke="#454545" stroke-width="0.32">export report</text><text x="1758.4" y="408.1" font-size="6.7" fill="#a8a8a8" font-weight="normal" text-anchor="middle" >Write File to Disk</text><text x="1475.5" y="492.4" font-size="8.4" fill="#454545" font-weight="normal" text-anchor="middle" stroke="#454545" stroke-width="0.32">end</text><rect x="1110.8" y="484.3" width="10.6" height="6" fill="#fafbfc"/><text x="1111.3" y="489.3" font-size="5.9" fill="#9a9a9a">true</text><rect x="1110.8" y="500.3" width="12.8" height="6" fill="#fafbfc"/><text x="1111.3" y="505.3" font-size="5.9" fill="#9a9a9a">false</text><text x="1082.8" y="529.7" font-size="8.4" fill="#454545" font-weight="normal" text-anchor="middle" stroke="#454545" stroke-width="0.32">contain VRTS?</text><text x="862.9" y="588.6" font-size="8.4" fill="#454545" font-weight="normal" text-anchor="middle" stroke="#454545" stroke-width="0.32">Get an issue</text><text x="862.9" y="598.5" font-size="6.7" fill="#a8a8a8" font-weight="normal" text-anchor="middle" >get: issue</text><text x="972.8" y="588.6" font-size="8.4" fill="#454545" font-weight="normal" text-anchor="middle" stroke="#454545" stroke-width="0.32">get description and</text><text x="972.8" y="598.3" font-size="8.4" fill="#454545" font-weight="normal" text-anchor="middle" stroke="#454545" stroke-width="0.32">comments</text><text x="972.8" y="608.2" font-size="6.7" fill="#a8a8a8" font-weight="normal" text-anchor="middle" >manual</text><text x="1224.0" y="612.2" font-size="8.4" fill="#454545" font-weight="normal" text-anchor="middle" stroke="#454545" stroke-width="0.32">get VRTS</text><text x="1365.5" y="612.2" font-size="8.4" fill="#454545" font-weight="normal" text-anchor="middle" stroke="#454545" stroke-width="0.32">Get an issue1</text><text x="1365.5" y="622.1" font-size="6.7" fill="#a8a8a8" font-weight="normal" text-anchor="middle" >get: issue</text><text x="1475.4" y="612.2" font-size="8.4" fill="#454545" font-weight="normal" text-anchor="middle" stroke="#454545" stroke-width="0.32">get description and</text><text x="1475.4" y="621.9" font-size="8.4" fill="#454545" font-weight="normal" text-anchor="middle" stroke="#454545" stroke-width="0.32">comments1</text><text x="1475.4" y="631.8" font-size="6.7" fill="#a8a8a8" font-weight="normal" text-anchor="middle" >manual</text><text x="1600.3" y="580.7" font-size="8.0" fill="#2a2a2a" font-weight="normal" text-anchor="start" stroke="#2a2a2a" stroke-width="0.22">summary</text><text x="1188.8" y="372.8" font-size="6.2" fill="#9a9ccb" text-anchor="middle">Chat Model<tspan fill="#e0506a">*</tspan></text><text x="1235.9" y="372.8" font-size="6.2" fill="#9a9ccb" text-anchor="middle">Memory</text><text x="1259.5" y="372.8" font-size="6.2" fill="#9a9ccb" text-anchor="middle">Tool</text><text x="1224.0" y="415.8" font-size="6.2" fill="#9a9ccb" text-anchor="middle">Model</text><text x="1224.0" y="474.7" font-size="8.4" fill="#454545" font-weight="normal" text-anchor="middle" stroke="#454545" stroke-width="0.32">Claude4.1opus</text><text x="1581.6" y="612.1" font-size="6.2" fill="#9a9ccb" text-anchor="middle">Chat Model<tspan fill="#e0506a">*</tspan></text><text x="1628.7" y="612.1" font-size="6.2" fill="#9a9ccb" text-anchor="middle">Memory</text><text x="1652.3" y="612.1" font-size="6.2" fill="#9a9ccb" text-anchor="middle">Tool</text><text x="1616.7" y="655.6" font-size="6.2" fill="#9a9ccb" text-anchor="middle">Model</text><text x="1616.7" y="714.5" font-size="8.4" fill="#454545" font-weight="normal" text-anchor="middle" stroke="#454545" stroke-width="0.32">gpt5</text></svg>
<div id="sidebar"></div>
<div id="topline"></div>
<svg class="abs" style="left:0px;top:0px" width="80" height="60" viewBox="0 0 80 60">
<g fill="none" stroke="#e8385f" stroke-width="2">
<circle cx="29.8" cy="41.6" r="2.9"/><circle cx="40.3" cy="41.6" r="2.9"/>
<circle cx="61.6" cy="35.9" r="2.9"/><circle cx="57.9" cy="48.1" r="2.9"/>
<path d="M32.7 41.6h4.7 M43.2 41.6h3.3 M46.5 41.6c1.6 0 2.3-0.9 2.3-2.3v-1.1c0-1.5 0.8-2.3 2.3-2.3h7.6 M46.5 41.6c1.6 0 2.3 0.9 2.3 2.3v1.6c0 1.6 0.8 2.6 2.3 2.6h3.9"/>
</g></svg>
<div class="txt" style="left:73px;top:31px;font-size:16.5px;font-weight:bold;color:#333;letter-spacing:0.3px">n8n</div>
<div class="btn" style="left:205px;top:19px;width:39px;height:38px;border-color:#a4a4aa;border-radius:5px"></div>
<svg class="abs" style="left:216px;top:30px" width="17" height="17" viewBox="0 0 17 17"><path d="M8.5 2v13M2 8.5h13" stroke="#333" stroke-width="1.5"/></svg>
<svg class="abs" style="left:30.08px;top:86.88px" width="23.04" height="23.04" viewBox="0 0 24 24" fill="none" stroke="#666" stroke-width="1.77" stroke-linecap="round" stroke-linejoin="round"><path d="M15 21v-8a1 1 0 0 0-1-1h-4a1 1 0 0 0-1 1v8"/><path d="M3 10a2 2 0 0 1 .709-1.528l7-5.999a2 2 0 0 1 2.582 0l7 5.999A2 2 0 0 1 21 10v9a2 2 0 0 1-2 2H5a2 2 0 0 1-2-2z"/></svg>
<div class="navtxt" style="left:68px;top:88px">Overview</div>
<svg class="abs" style="left:30.20px;top:626.00px" width="22.80" height="22.80" viewBox="0 0 24 24" fill="none" stroke="#666" stroke-width="1.79" stroke-linecap="round" stroke-linejoin="round"><path d="M12 22v-9"/><path d="M15.17 2.21a1.67 1.67 0 0 1 1.63 0L21 4.57a1.93 1.93 0 0 1 0 3.36L8.82 14.79a1.655 1.655 0 0 1-1.64 0L3 12.43a1.93 1.93 0 0 1 0-3.36z"/><path d="M20 13v3.87a2.06 2.06 0 0 1-1.11 1.83l-6 3.08a1.93 1.93 0 0 1-1.78 0l-6-3.08A2.06 2.06 0 0 1 4 16.870V13"/><path d="M21 12.43a1.93 1.93 0 0 0 0-3.36L8.83 2.2a1.64 1.64 0 0 0-1.63 0L3 4.57a1.93 1.93 0 0 0 0 3.36l12.18 6.86a1.636 1.636 0 0 0 1.63 0z"/></svg>
<div class="navtxt" style="left:68px;top:627px">Templates</div>
<svg class="abs" style="left:29.84px;top:682.44px" width="23.52" height="23.52" viewBox="0 0 24 24" fill="none" stroke="#666" stroke-width="1.73" stroke-linecap="round" stroke-linejoin="round"><path d="M8 21s-4-3-4-9 4-9 4-9"/><path d="M16 3s4 3 4 9-4 9-4 9"/><line x1="15" x2="9" y1="9" y2="15"/><line x1="9" x2="15" y1="9" y2="15"/></svg>
<div class="navtxt" style="left:68px;top:683px">Variables</div>
<svg class="abs" style="left:29.96px;top:739.06px" width="23.28" height="23.28" viewBox="0 0 24 24" fill="none" stroke="#666" stroke-width="1.75" stroke-linecap="round" stroke-linejoin="round"><path d="M13 17V9"/><path d="M18 17v-3"/><path d="M3 3v16a2 2 0 0 0 2 2h16"/><path d="M8 17V5"/></svg>
<div class="navtxt" style="left:68px;top:739px">Insights</div>
<svg class="abs" style="left:30.80px;top:795.70px" width="21.60" height="21.60" viewBox="0 0 24 24" fill="none" stroke="#666" stroke-width="1.89" stroke-linecap="round" stroke-linejoin="round"><circle cx="12" cy="12" r="10"/><path d="M9.09 9a3 3 0 0 1 5.83 1c0 2-3 3-3 3"/><path d="M12 17h.01"/></svg>
<div class="navtxt" style="left:68px;top:795px">Help</div>
<svg class="abs" style="left:30.56px;top:851.46px" width="22.08" height="22.08" viewBox="0 0 24 24" fill="none" stroke="#666" stroke-width="1.85" stroke-linecap="round" stroke-linejoin="round"><path d="M10.268 21a2 2 0 0 0 3.464 0"/><path d="M3.262 15.326A1 1 0 0 0 4 17h16a1 1 0 0 0 .74-1.673C19.41 13.956 18 12.499 18 8A6 6 0 0 0 6 8c0 4.499-1.411 5.956-2.738 7.326"/></svg>
<div class="navtxt" style="left:68px;top:851px">What’s New</div>
<svg class="abs" style="left:200.66px;top:796.16px" width="19.68" height="19.68" viewBox="0 0 24 24" fill="none" stroke="#8a8a8a" stroke-width="1.46" stroke-linecap="round" stroke-linejoin="round"><path d="m6 9 6 6 6-6"/></svg>
<svg class="abs" style="left:200.66px;top:852.16px" width="19.68" height="19.68" viewBox="0 0 24 24" fill="none" stroke="#8a8a8a" stroke-width="1.46" stroke-linecap="round" stroke-linejoin="round"><path d="m6 9 6 6 6-6"/></svg>
<div class="abs" style="left:51.5px;top:850px;width:5px;height:5px;border-radius:3px;background:#f4604d"></div>
<div class="abs" style="left:0;top:896px;width:260px;height:1px;background:#e3e3e6"></div>
<div id="header"></div>
<svg class="abs" style="left:292.96px;top:36.96px" width="17.28" height="17.28" viewBox="0 0 24 24" fill="none" stroke="#666" stroke-width="1.88" stroke-linecap="round" stroke-linejoin="round"><path d="M19 21v-2a4 4 0 0 0-4-4H9a4 4 0 0 0-4 4v2"/><circle cx="12" cy="7" r="4"/></svg>
<div class="txt" style="left:315px;top:35px;font-size:18.5px;color:#666;letter-spacing:0.25px">Personal</div>
<svg class="abs" style="left:400px;top:32px" width="14" height="28" viewBox="0 0 14 28"><path d="M10.6 3 3.6 25" stroke="#cfd0d6" stroke-width="1.2"/></svg>
<div class="txt" style="left:421.5px;top:35px;font-size:18.5px;color:#333;letter-spacing:0.6px">case</div>
<div class="txt" style="left:531px;top:36px;font-size:16.5px;color:#888;font-weight:bold">+ Add tag</div>
<div class="txt" style="left:1213px;top:35px;font-size:16.5px;color:#666;letter-spacing:0.2px">Inactive</div>
<div class="abs" style="left:1282px;top:31px;width:52px;height:26px;border-radius:13px;background:#8d8e93"></div>
<div class="abs" style="left:1284px;top:33px;width:22px;height:22px;border-radius:11px;background:#fff"></div>
<div class="btn" style="left:1360px;top:25px;width:77px;height:38.5px;border-color:#aeaeb4;border-radius:5px"></div>
<div class="txt" style="left:1377px;top:34.5px;font-size:16.5px;color:#333;letter-spacing:0.3px">Share</div>
<div class="txt" style="left:1486px;top:34.5px;font-size:16.5px;color:#888;letter-spacing:0.3px">Saved</div>
<svg class="abs" style="left:1634px;top:41px" width="18" height="6" viewBox="0 0 18 6"><circle cx="3" cy="3" r="1.6" fill="#444"/><circle cx="9" cy="3" r="1.6" fill="#444"/><circle cx="15" cy="3" r="1.6" fill="#444"/></svg>
<div class="abs" style="left:1689px;top:0;width:1px;height:86px;background:#e3e3e6"></div>
<div class="abs" style="left:1717px;top:25px;width:177px;height:36px;border:1px solid #d8dadd;border-radius:4px;background:#fff;overflow:hidden"><div style="position:absolute;left:0;top:0;width:85px;height:36px;background:linear-gradient(#f4f5f7,#eaecef);border-right:1px solid #d8dadd"></div></div>
<svg class="abs" style="left:1731px;top:33px" width="21" height="21" viewBox="0 0 16 16"><path fill="#24292f" d="M8 0C3.58 0 0 3.58 0 8c0 3.54 2.29 6.53 5.47 7.59.4.07.55-.17.55-.38 0-.19-.01-.82-.01-1.49-2.01.37-2.53-.49-2.69-.94-.09-.23-.48-.94-.82-1.13-.28-.15-.68-.52-.01-.53.63-.01 1.08.58 1.23.82.72 1.21 1.87.87 2.33.66.07-.52.28-.87.51-1.07-1.78-.2-3.64-.89-3.64-3.95 0-.87.31-1.59.82-2.15-.08-.2-.36-1.02.08-2.12 0 0 .67-.21 2.2.82.64-.18 1.32-.27 2-.27.68 0 1.36.09 2 .27 1.53-1.04 2.2-.82 2.2-.82.44 1.1.16 1.92.08 2.12.51.56.82 1.27.82 2.15 0 3.07-1.87 3.75-3.65 3.95.29.25.54.73.54 1.48 0 1.07-.01 1.93-.01 2.2 0 .21.15.46.55.38A8.013 8.013 0 0016 8c0-4.42-3.58-8-8-8z"/></svg>
<div class="txt" style="left:1757px;top:34px;font-size:16.5px;color:#24292f;font-weight:bold">Star</div>
<div class="txt" style="left:1816px;top:34px;font-size:16.5px;color:#24292f;font-weight:bold;letter-spacing:0.5px">140,233</div>
<div class="abs" style="left:932px;top:66px;width:317px;height:43px;border-radius:5px;background:#dde0e8"></div>
<div class="abs" style="left:937px;top:71px;width:76px;height:33px;border-radius:4px;background:#fff"></div>
<div class="txt" style="left:953px;top:78px;font-size:16.5px;color:#333">Editor</div>
<div class="txt" style="left:1028px;top:78px;font-size:16.5px;color:#666">Executions</div>
<div class="txt" style="left:1142px;top:78px;font-size:16.5px;color:#666">Evaluations</div>
<div class="btn" style="left:1844.5px;top:108.5px;width:54px;height:54px"></div>
<div class="btn" style="left:1844.5px;top:174px;width:54px;height:54px"></div>
<div class="btn" style="left:1844.5px;top:239.5px;width:54px;height:54px"></div>
<svg class="abs" style="left:1858.86px;top:122.66px" width="25.68" height="25.68" viewBox="0 0 24 24" fill="none" stroke="#444" stroke-width="1.50" stroke-linecap="round" stroke-linejoin="round"><path d="M5 12h14"/><path d="M12 5v14"/></svg>
<svg class="abs" style="left:1859.94px;top:189.54px" width="23.52" height="23.52" viewBox="0 0 24 24" fill="none" stroke="#444" stroke-width="1.63" stroke-linecap="round" stroke-linejoin="round"><path d="M16 3H5a2 2 0 0 0-2 2v14a2 2 0 0 0 2 2h14a2 2 0 0 0 2-2V8Z"/><path d="M15 3v4a2 2 0 0 0 2 2h4"/></svg>
<svg class="abs" style="left:1859.94px;top:254.84px" width="23.52" height="23.52" viewBox="0 0 24 24" fill="none" stroke="#444" stroke-width="1.63" stroke-linecap="round" stroke-linejoin="round"><rect width="18" height="18" x="3" y="3" rx="2"/><path d="M15 3v18"/></svg>
<svg class="abs" style="left:1866px;top:333px" width="48" height="48" viewBox="0 0 48 48">
<defs><clipPath id="avc"><circle cx="24" cy="24" r="21.5"/></clipPath></defs>
<circle cx="24" cy="24" r="23.2" fill="#fff" opacity="0.9"/>
<circle cx="24" cy="24" r="21.5" fill="#cfe1f6"/>
<g clip-path="url(#avc)">
<path d="M11 31 C9 20 12 6 24 5 C35 5 38 15 37 24 C36.5 28 35.5 30 33 31z" fill="#3d2a23"/>
<rect x="20.5" y="31" width="7" height="8" fill="#f3d2c8"/>
<path d="M10 48 C11 40 16 37.5 20.5 37 C22 40 26 40 27.5 37 C32 37.5 37 40 38 48z" fill="#161616"/>
<path d="M17 21 C17 14 20 11.5 25 11.5 C31 11.5 35 15 35 22 C35 29 31 34 25.5 34 C20 34 17 29 17 21z" fill="#f7ddd4"/>
<path d="M16 23 C15 15 19 9 26 9.5 C31 10 34 12 35 17 C30 16.5 24 14 21 11.5 C20 15 18 19 17.5 24z" fill="#3d2a23"/>
<ellipse cx="20.8" cy="23" rx="1.9" ry="2.1" fill="#2a1a16"/><ellipse cx="31" cy="23" rx="1.9" ry="2.1" fill="#2a1a16"/>
<ellipse cx="25.8" cy="29.3" rx="1.4" ry="0.8" fill="#e29b96"/>
</g></svg>
<svg class="abs" style="left:1850px;top:822px" width="58" height="58" viewBox="0 0 58 58">
<defs><radialGradient id="kg" cx="0.6" cy="0.85" r="0.6"><stop offset="0" stop-color="#6a6a6a"/><stop offset="0.5" stop-color="#202020"/><stop offset="1" stop-color="#050505"/></radialGradient></defs>
<circle cx="28.5" cy="28.5" r="27.5" fill="#fff" opacity="0.85"/>
<circle cx="28.5" cy="28.5" r="25.5" fill="url(#kg)"/>
<path d="M16.2 16.8h4.6v9.4l9.7-9.4h6.3l-10.4 9.9 11.1 13h-6.2l-8.3-9.8-2.2 2v7.8h-4.6z" fill="#fff"/>
<circle cx="43" cy="14.5" r="2.9" fill="#2f80f0"/>
</svg>
<div class="btn" style="left:282.5px;top:855.5px;width:54px;height:54px"></div>
<div class="btn" style="left:353.0px;top:855.5px;width:54px;height:54px"></div>
<div class="btn" style="left:423.5px;top:855.5px;width:54px;height:54px"></div>
<div class="btn" style="left:494.0px;top:855.5px;width:54px;height:54px"></div>
<div class="btn" style="left:564.5px;top:855.5px;width:54px;height:54px"></div>
<svg class="abs" style="left:297.98px;top:870.98px" width="23.04" height="23.04" viewBox="0 0 24 24" fill="none" stroke="#333" stroke-width="1.88" stroke-linecap="round" stroke-linejoin="round"><path d="M8 3H5a2 2 0 0 0-2 2v3"/><path d="M21 8V5a2 2 0 0 0-2-2h-3"/><path d="M3 16v3a2 2 0 0 0 2 2h3"/><path d="M16 21h3a2 2 0 0 0 2-2v-3"/></svg>
<svg class="abs" style="left:368.60px;top:871.10px" width="22.80" height="22.80" viewBox="0 0 24 24" fill="none" stroke="#333" stroke-width="1.89" stroke-linecap="round" stroke-linejoin="round"><circle cx="11" cy="11" r="8"/><line x1="21" x2="16.65" y1="21" y2="16.65"/><line x1="11" x2="11" y1="8" y2="14"/><line x1="8" x2="14" y1="11" y2="11"/></svg>
<svg class="abs" style="left:439.20px;top:871.10px" width="22.80" height="22.80" viewBox="0 0 24 24" fill="none" stroke="#333" stroke-width="1.89" stroke-linecap="round" stroke-linejoin="round"><circle cx="11" cy="11" r="8"/><line x1="21" x2="16.65" y1="21" y2="16.65"/><line x1="8" x2="14" y1="11" y2="11"/></svg>
<svg class="abs" style="left:509.80px;top:871.10px" width="22.80" height="22.80" viewBox="0 0 24 24" fill="none" stroke="#333" stroke-width="1.89" stroke-linecap="round" stroke-linejoin="round"><path d="M9 14 4 9l5-5"/><path d="M4 9h10.5a5.5 5.5 0 0 1 5.5 5.5a5.5 5.5 0 0 1-5.5 5.5H11"/></svg>
<svg class="abs" style="left:581px;top:872px" width="22" height="22" viewBox="0 0 22 22"><path d="M1.2 1 7.3 7.4 M4 10.2 10.4 4.3" stroke="#3a3a3a" stroke-width="1.9" stroke-linecap="round"/><path d="M6.3 12.6 13 5.9 20.4 10 18.9 11.5 16.7 10.8 17 13.4 9.8 20.6z" fill="#3a3a3a"/></svg>
<div class="abs" style="left:1004px;top:855.5px;width:173px;height:54px;border-radius:5px;background:#ff6d5a"></div>
<div class="txt" style="left:1060px;top:872px;font-size:18.5px;color:#fff;letter-spacing:0.55px">Open chat</div>
<svg class="abs" style="left:1030.26px;top:871.76px" width="22.08" height="22.08" viewBox="0 0 24 24" fill="none" stroke="#fff" stroke-width="1.74" stroke-linecap="round" stroke-linejoin="round"><path d="M7.9 20A9 9 0 1 0 4 16.1L2 22Z"/></svg>
<div class="abs" style="left:247.5px;top:488px;width:26px;height:26px;border-radius:13px;background:#fff;border:1px solid #dcdcde"></div>
<svg class="abs" style="left:255px;top:496px" width="10" height="10" viewBox="0 0 10 10"><path d="M6.2 1.4 2.9 5l3.3 3.6" fill="none" stroke="#707070" stroke-width="1.3" stroke-linecap="round" stroke-linejoin="round"/></svg>
</body></html>
